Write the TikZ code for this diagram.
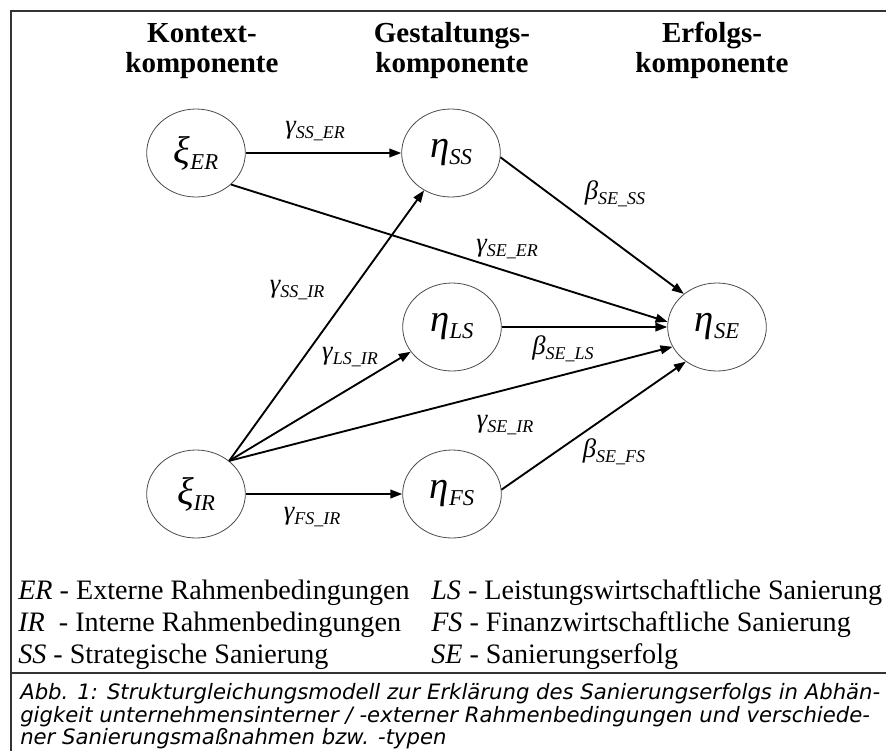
\documentclass[tikz,border=0pt]{standalone}
\usepackage{fontspec}
\setmainfont{Liberation Serif}
\newfontfamily\capfont{DejaVu Sans}
\usetikzlibrary{arrows.meta,shapes.geometric}
\newcommand\latvar[2]{{\fontsize{29}{29}\selectfont\itshape #1}\raisebox{-5pt}{\fontsize{17}{17}\selectfont\itshape #2}}
\newcommand\edgelab[2]{{\fontsize{20}{20}\selectfont\itshape #1}\raisebox{-4pt}{\fontsize{13.5}{13.5}\selectfont\itshape #2}}
\begin{document}
\begin{tikzpicture}[x=0.75pt,y=-0.75pt,
  var/.style={ellipse,draw=black!70,line width=0.6pt,minimum width=74pt,minimum height=66pt,inner sep=0pt},
  arr/.style={line width=1.4pt,-{Triangle[length=9pt,width=6.5pt]}},
  head/.style={font=\fontsize{21.75}{24}\selectfont\bfseries,anchor=base,inner sep=0pt},
  elab/.style={inner sep=0pt},
  legend/.style={font=\fontsize{21.1}{24}\selectfont,anchor=base west,inner sep=0pt},
  capline/.style={font=\capfont\itshape\fontsize{15.9}{19}\selectfont,anchor=base west,inner sep=0pt},
  frame/.style={draw=black!80,line width=1.3pt}]
\useasboundingbox (0,0) rectangle (886,751);
% frame
\draw[frame] (886,11) -- (11,11) -- (11,751);
\draw[frame] (11,673) -- (886,673);
% headings
\node[head] (h1a) at (202,42) {Kontext-};
\node[head] (h1b) at (202,72) {komponente};
\node[head] (h2a) at (452,42) {Gestaltungs-};
\node[head] (h2b) at (452,72) {komponente};
\node[head] (h3a) at (712,42) {Erfolgs-};
\node[head] (h3b) at (712,72) {komponente};
% latent variables
\node[var] (xiER) at (196,153) {\latvar{ξ}{ER}};
\node[var] (etaSS) at (451,153) {\latvar{η}{SS}};
\node[var] (etaLS) at (452,327) {\latvar{η}{LS}};
\node[var] (etaSE) at (717,327) {\latvar{η}{SE}};
\node[var] (xiIR) at (196,494) {\latvar{ξ}{IR}};
\node[var] (etaFS) at (452,494) {\latvar{η}{FS}};
% paths
\draw[arr] (xiER) -- (etaSS);
\draw[arr] (xiER.-42) -- (etaSE.174);
\draw[arr] (etaSS.-5) -- (etaSE.135);
\draw[arr] (etaLS) -- (etaSE);
\draw[arr] (etaFS.5) -- (etaSE.228);
\draw[arr] (xiIR.45) -- (etaSS);
\draw[arr] (xiIR.45) -- (etaLS);
\draw[arr] (xiIR.45) -- (etaSE.204);
\draw[arr] (xiIR) -- (etaFS);
% path labels
\node[elab] (gSSER) at (315,131) {\edgelab{γ}{SS\_ER}};
\node[elab] (gSEER) at (507,249) {\edgelab{γ}{SE\_ER}};
\node[elab] (bSESS) at (615,194) {\edgelab{β}{SE\_SS}};
\node[elab] (gSSIR) at (297,290) {\edgelab{γ}{SS\_IR}};
\node[elab] (gLSIR) at (350,357) {\edgelab{γ}{LS\_IR}};
\node[elab] (bSELS) at (563,349) {\edgelab{β}{SE\_LS}};
\node[elab] (gSEIR) at (505,425) {\edgelab{γ}{SE\_IR}};
\node[elab] (bSEFS) at (614,452) {\edgelab{β}{SE\_FS}};
\node[elab] (gFSIR) at (312,517) {\edgelab{γ}{FS\_IR}};
% legend
\node[legend] (l1) at (18,599) {\textit{ER} - Externe Rahmenbedingungen};
\node[legend] (l2) at (18,631) {\textit{IR}\ \ - Interne Rahmenbedingungen};
\node[legend] (l3) at (18,663) {\textit{SS} - Strategische Sanierung};
\node[legend] (l4) at (431,599) {\textit{LS} - Leistungswirtschaftliche Sanierung};
\node[legend] (l5) at (431,631) {\textit{FS} - Finanzwirtschaftliche Sanierung};
\node[legend] (l6) at (431,663) {\textit{SE} - Sanierungserfolg};
% caption
\node[capline] (c1) at (20,699) {Abb. 1: Strukturgleichungsmodell zur Erklärung des Sanierungserfolgs in Abhän-};
\node[capline] (c2) at (20,722) {gigkeit unternehmensinterner / -externer Rahmenbedingungen und verschiede-};
\node[capline] (c3) at (20,744) {ner Sanierungsmaßnahmen bzw. -typen};
\end{tikzpicture}
\end{document}
